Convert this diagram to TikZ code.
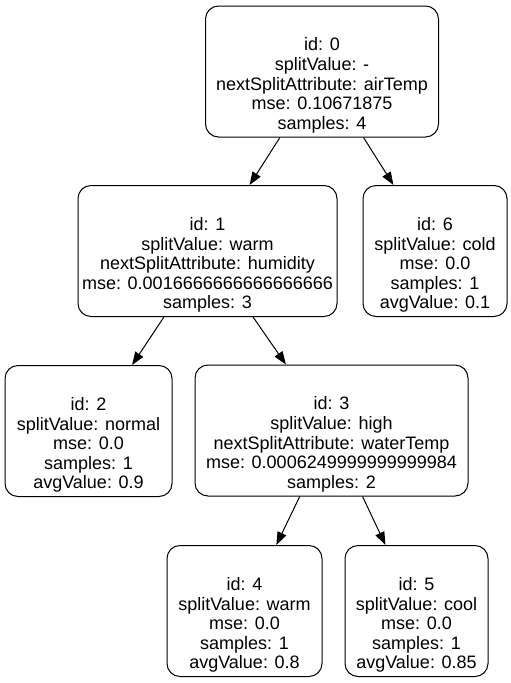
\documentclass[tikz,border=0pt]{standalone}
\usepackage{fontspec}
\setmainfont{Liberation Sans}
\usetikzlibrary{arrows.meta}

\tikzset{
	treebox/.style={
		draw=black,
		fill=white,
		line width=1pt,
		rounded corners=13pt,
		minimum height=131pt,
		inner sep=0pt
	},
	treetext/.style={
		align=center,
		inner sep=0pt,
		font=\fontsize{18}{19.6}\selectfont
	},
	treeedge/.style={
		-{Triangle[length=13pt,width=9.5pt]},
		line width=1pt
	}
}

\begin{document}
\begin{tikzpicture}[x=1pt,y=1pt]
			
			\path[fill=white,use as bounding box] (0,0) rectangle (511,-683);
			
			% ---------------------------------------------------------
			% ROOT
			% ---------------------------------------------------------
			
			\node[treebox,minimum width=233pt] (n0) at (322,-71.5) {};
			\node[treetext] (t0) at (322,-85.5)
			{id: 0\\splitValue: -\\nextSplitAttribute: airTemp\\mse: 0.10671875\\samples: 4};
			
			% ---------------------------------------------------------
			% LEVEL 1
			% ---------------------------------------------------------
			
			\node[treebox,minimum width=259pt] (n1) at (207.5,-251) {};
			\node[treetext] (t1) at (207.5,-265)
			{id: 1\\splitValue: warm\\nextSplitAttribute: humidity\\mse: 0.0016666666666666666\\samples: 3};
			
			\node[treebox,minimum width=144pt] (n6) at (435,-251) {};
			\node[treetext] (t6) at (435,-265)
			{id: 6\\splitValue: cold\\mse: 0.0\\samples: 1\\avgValue: 0.1};
			
			% ---------------------------------------------------------
			% LEVEL 2
			% ---------------------------------------------------------
			
			\node[treebox,minimum width=167pt] (n2) at (88.5,-431) {};
			\node[treetext] (t2) at (88.5,-445)
			{id: 2\\splitValue: normal\\mse: 0.0\\samples: 1\\avgValue: 0.9};
			
			\node[treebox,minimum width=273pt] (n3) at (331.5,-430.5) {};
			\node[treetext] (t3) at (331.5,-444.5)
			{id: 3\\splitValue: high\\nextSplitAttribute: waterTemp\\mse: 0.0006249999999999984\\samples: 2};
			
			% ---------------------------------------------------------
			% LEVEL 3
			% ---------------------------------------------------------
			
			\node[treebox,minimum width=155pt] (n4) at (244.5,-611) {};
			\node[treetext] (t4) at (244.5,-625)
			{id: 4\\splitValue: warm\\mse: 0.0\\samples: 1\\avgValue: 0.8};
			
			\node[treebox,minimum width=143pt] (n5) at (416.5,-611) {};
			\node[treetext] (t5) at (416.5,-625)
			{id: 5\\splitValue: cool\\mse: 0.0\\samples: 1\\avgValue: 0.85};
			
			% ---------------------------------------------------------
			% ARROWS
			% ---------------------------------------------------------
			
			\draw[treeedge]
			(n0) -- (n1);
			
			\draw[treeedge]
			(n0) -- (n6);
			
			\draw[treeedge]
			(n1) -- (n2);
			
			\draw[treeedge]
			(n1) -- (n3);
			
			\draw[treeedge]
			(n3) -- (n4);
			
			\draw[treeedge]
			(n3) -- (n5);
			
\end{tikzpicture}
\end{document}
